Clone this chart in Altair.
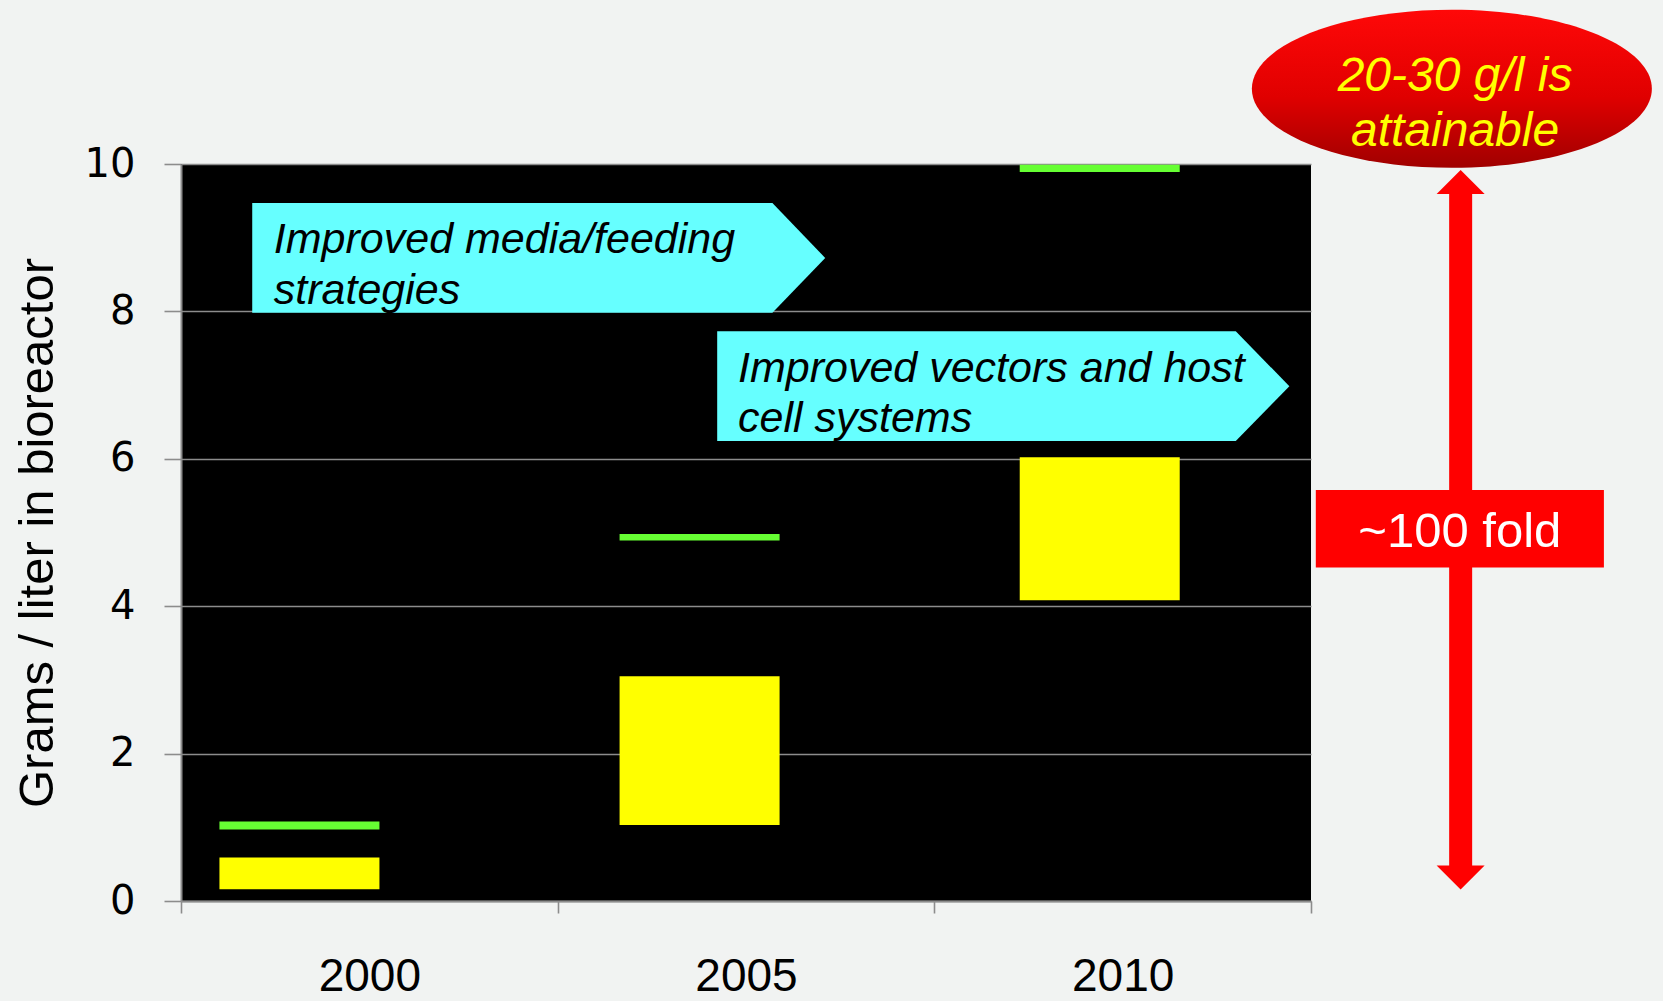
import altair as alt
import pandas as pd

# ---------------- data values ----------------
years = [2000, 2005, 2010]
year_labels = ["2000", "2005", "2010"]
yellow_low = [0.16, 1.03, 4.08]
yellow_high = [0.59, 3.05, 6.02]
green_low = [0.97, 4.89, 9.89]
green_high = [1.08, 4.98, 9.99]

y_ticks = [0, 2, 4, 6, 8, 10]
y_title = "Grams / liter in bioreactor"

arrow1_lines = ["Improved media/feeding", "strategies"]
arrow2_lines = ["Improved vectors and host", "cell systems"]
ellipse_lines = ["20-30 g/l is", "attainable"]
fold_label = "~100 fold"

# ---------------- annotation anchors (data units) ----------------
X_DOMAIN = [1998.52, 2012.64]
Y_DOMAIN = [0, 10]

arrow1 = dict(x0=1999.41, x1=2005.91, xt=2006.57, top=9.47, bot=7.98)
arrow2 = dict(x0=2005.22, x1=2011.70, xt=2012.37, top=7.73, bot=6.24)
arrow1_text = dict(x=1999.68, y=[8.786, 8.100])
arrow2_text = dict(x=2005.48, y=[7.042, 6.370])
ellipse_pos = dict(x=2014.40, y=11.02)
ellipse_text = dict(x=2014.44, y=[10.99, 10.24])
arrow_x = 2014.51
arrow_top, arrow_bot = 9.756, 0.319
box = dict(x0=2012.70, x1=2016.30, y0=4.525, y1=5.577)
box_text = dict(x=2014.50, y=4.803)

GRAY = "#8c8c8c"
RED = "#ff0000"

X_SCALE = alt.Scale(domain=X_DOMAIN, nice=False, zero=False, padding=0)
Y_SCALE = alt.Scale(domain=Y_DOMAIN, nice=False, zero=False, padding=0)


def xq(field):
    return alt.X(field, type="quantitative", scale=X_SCALE, axis=None)


def yq(field):
    # no axis setting here: the single shared y axis is defined on the yellow layer
    return alt.Y(field, type="quantitative", scale=Y_SCALE)


bar_df = pd.DataFrame({"year": years, "ylow": yellow_low, "yhigh": yellow_high,
                       "glow": green_low, "ghigh": green_high})

y_axis = alt.Axis(values=y_ticks, format="d", grid=True, gridColor=GRAY, gridWidth=1.6,
                  domainColor=GRAY, domainWidth=2, tickColor=GRAY, tickWidth=1.6,
                  tickSize=17, labelFont="DejaVu Sans", labelFontSize=40,
                  labelColor="black", labelPadding=29, labelFlush=False,
                  labelOverlap=False, title=y_title, titleFont="Liberation Sans",
                  titleFontSize=49, titleFontWeight="normal", titleColor="black",
                  titleAngle=270, titleAlign="center", titleBaseline="alphabetic",
                  titleX=-129, titleY=368.5)

yellow = alt.Chart(bar_df).mark_bar(color="#ffff00", size=160).encode(
    x=xq("year"),
    y=alt.Y("ylow:Q", scale=Y_SCALE, axis=y_axis),
    y2=alt.Y2("yhigh"),
)
green = alt.Chart(bar_df).mark_bar(color="#66ff33", size=160).encode(
    x=xq("year"), y=yq("glow"), y2=alt.Y2("ghigh"),
)

# cyan arrow boxes
area_rows = []
for i, a in enumerate([arrow1, arrow2]):
    mid = (a["top"] + a["bot"]) / 2
    area_rows += [
        {"id": i, "x": a["x0"], "top": a["top"], "bot": a["bot"]},
        {"id": i, "x": a["x1"], "top": a["top"], "bot": a["bot"]},
        {"id": i, "x": a["xt"], "top": mid, "bot": mid},
    ]
area_df = pd.DataFrame(area_rows)
cyan = alt.Chart(area_df).mark_area(color="#66ffff", opacity=1, interpolate="linear").encode(
    x=xq("x"), y=yq("top"), y2=alt.Y2("bot"), detail="id:N",
)

txt_rows = []
for lines, pos in [(arrow1_lines, arrow1_text), (arrow2_lines, arrow2_text)]:
    for line, yy in zip(lines, pos["y"]):
        txt_rows.append({"x": pos["x"], "y": yy, "t": line})
cyan_text = alt.Chart(pd.DataFrame(txt_rows)).mark_text(
    align="left", baseline="alphabetic", font="Liberation Sans", fontStyle="italic",
    fontSize=43, color="black",
).encode(x=xq("x"), y=yq("y"), text="t:N")

# red ellipse
ELLIPSE = "M -1 0 A 1 0.395 0 1 1 1 0 A 1 0.395 0 1 1 -1 0 Z"
grad = alt.LinearGradient(
    gradient="linear",
    stops=[alt.GradientStop(color="#ff0808", offset=0),
           alt.GradientStop(color="#e00000", offset=0.55),
           alt.GradientStop(color="#a00000", offset=1)],
    x1=0, x2=0, y1=0, y2=1,
)
ellipse = alt.Chart(pd.DataFrame({"x": [ellipse_pos["x"]], "y": [ellipse_pos["y"]]})).mark_point(
    shape=ELLIPSE, size=160000, filled=True, fill=grad, strokeWidth=0, opacity=1,
).encode(x=xq("x"), y=yq("y"))

ell_txt = alt.Chart(pd.DataFrame({"x": [ellipse_text["x"]] * 2, "y": ellipse_text["y"],
                                  "t": ellipse_lines})).mark_text(
    align="center", baseline="alphabetic", font="Liberation Sans", fontStyle="italic",
    fontSize=48, color="#ffff00",
).encode(x=xq("x"), y=yq("y"), text="t:N")

# red double arrow
shaft = alt.Chart(pd.DataFrame({"x": [arrow_x], "y1": [arrow_top], "y2": [arrow_bot]})).mark_rule(
    color=RED, strokeWidth=23,
).encode(x=xq("x"), y=yq("y1"), y2=alt.Y2("y2"))

head_up = alt.Chart(pd.DataFrame({"x": [arrow_x], "y": [arrow_top]})).mark_point(
    shape="M 0 -0.5 L 1 0.5 L -1 0.5 Z", size=2304, filled=True, color=RED, opacity=1,
).encode(x=xq("x"), y=yq("y"))
head_down = alt.Chart(pd.DataFrame({"x": [arrow_x], "y": [arrow_bot]})).mark_point(
    shape="M 0 0.5 L 1 -0.5 L -1 -0.5 Z", size=2304, filled=True, color=RED, opacity=1,
).encode(x=xq("x"), y=yq("y"))

fold_box = alt.Chart(pd.DataFrame({"x0": [box["x0"]], "x1": [box["x1"]],
                                   "y0": [box["y0"]], "y1": [box["y1"]]})).mark_rect(
    color=RED, opacity=1,
).encode(x=xq("x0"), x2=alt.X2("x1"), y=yq("y0"), y2=alt.Y2("y1"))

fold_txt = alt.Chart(pd.DataFrame({"x": [box_text["x"]], "y": [box_text["y"]],
                                   "t": [fold_label]})).mark_text(
    align="center", baseline="alphabetic", font="Liberation Sans", fontSize=49, color="white",
).encode(x=xq("x"), y=yq("y"), text="t:N")

# category axis (band boundaries as ticks)
axis_layer = alt.Chart(pd.DataFrame({"label": year_labels})).mark_bar(opacity=0).encode(
    x=alt.X("label:N", sort=year_labels,
            scale=alt.Scale(type="band", paddingInner=0, paddingOuter=0),
            axis=alt.Axis(title=None, labelAngle=0, tickBand="extent", tickSize=12,
                          tickColor=GRAY, tickWidth=1.6, domainColor=GRAY, domainWidth=2,
                          labelFont="Liberation Sans", labelFontSize=46, labelColor="black",
                          labelPadding=77, labelBaseline="alphabetic", grid=False)),
)

marks = alt.layer(yellow, green, cyan, cyan_text, ellipse, ell_txt, shaft, head_up,
                  head_down, fold_box, fold_txt)

chart = alt.layer(axis_layer, marks).resolve_scale(x="independent").properties(
    width=1130, height=737,
    autosize=alt.AutoSizeParams(type="none"),
    padding={"left": 181, "top": 164, "right": 352, "bottom": 100},
    background="#f1f3f2",
).configure_view(fill="black", stroke=None)

chart.save("out.html", embed_options={"renderer": "svg", "actions": False})
